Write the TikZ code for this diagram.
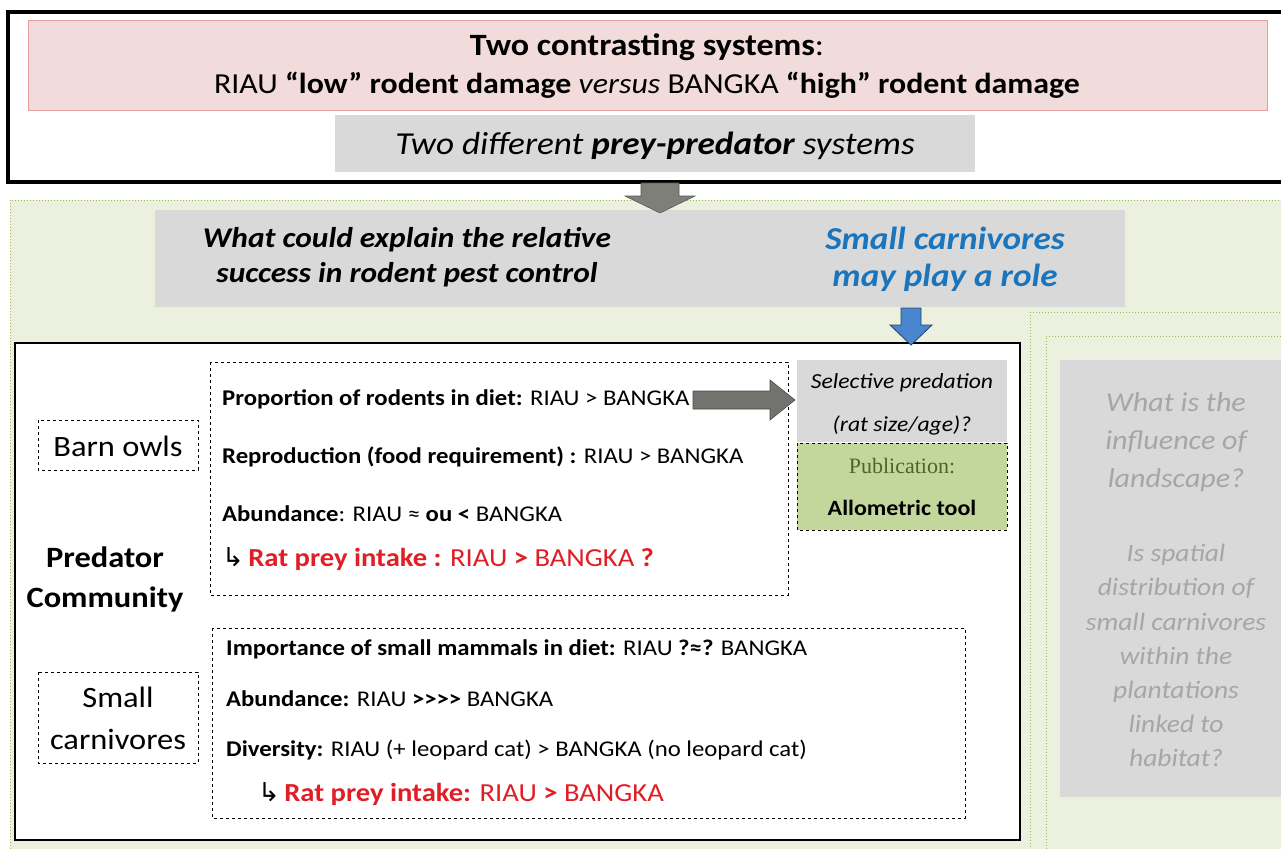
\documentclass[tikz,border=0pt]{standalone}
\usepackage{fontspec}
\setmainfont[FakeStretch=1.1]{Carlito}
\newfontfamily\symfont{DejaVu Sans}
\newfontfamily\pubfont{Liberation Serif}
\definecolor{pinkfill}{HTML}{F2DCDB}
\definecolor{pinkline}{HTML}{E6A0A0}
\definecolor{boxgray}{HTML}{D9D9D9}
\definecolor{areagreen}{HTML}{EBF1DE}
\definecolor{arealine}{HTML}{9BBB59}
\definecolor{pubgreen}{HTML}{C3D69B}
\definecolor{pubtext}{HTML}{4F6228}
\definecolor{redtext}{HTML}{E01E25}
\definecolor{bluetext}{HTML}{1B75BC}
\definecolor{arrowgray}{HTML}{7F7F7A}
\definecolor{arrowblue}{HTML}{4A86D0}
\definecolor{softgray}{HTML}{A6A6A6}
\tikzset{
  txt/.style={inner sep=0pt, anchor=base},
  listline/.style={inner sep=0pt, anchor=base west, font=\fontsize{22.5}{26}\selectfont},
  redline/.style={inner sep=0pt, anchor=base west, font=\fontsize{26}{30}\selectfont, text=redtext},
  dashbox/.style={draw=black, dashed, line width=0.8pt},
  titlef/.style={txt, font=\fontsize{29}{34}\selectfont},
  whatf/.style={txt, font=\fontsize{28.6}{34}\selectfont\bfseries\itshape},
  bluef/.style={txt, font=\fontsize{32}{36}\selectfont\bfseries\itshape, text=bluetext},
  grayq/.style={txt, font=\fontsize{27.3}{32}\selectfont\itshape, text=softgray},
  grayr/.style={txt, font=\fontsize{25}{30}\selectfont\itshape, text=softgray},
  labelf/.style={txt, font=\fontsize{29.5}{34}\selectfont},
  self/.style={txt, font=\fontsize{21.5}{25}\selectfont\itshape},
}
\newcommand{\hookarr}{{\symfont\color{black}\char"21B3}}
\begin{document}
\begin{tikzpicture}[x=1pt,y=-1pt]
\useasboundingbox (0,0) rectangle (1281,848);
\fill[white] (0,0) rectangle (1281,848);

% green lower area
\filldraw[fill=areagreen, draw=arealine, dotted, line width=1pt] (10,200) rectangle (1290,852);

% top framed box
\filldraw[fill=white, draw=black, line width=3.5pt] (8,12) rectangle (1290,182);
\filldraw[fill=pinkfill, draw=pinkline, line width=0.6pt] (28,20) rectangle (1267,110);
\node[titlef, font=\fontsize{31}{34}\selectfont] (title1) at (647,56) {\textbf{Two contrasting systems}:};
\node[titlef] (title2) at (647,94) {RIAU \textbf{“low” rodent damage} \textit{versus} BANGKA \textbf{“high” rodent damage}};
\fill[boxgray] (335,115) rectangle (975,172);
\node[txt, font=\fontsize{32}{36}\selectfont\itshape] (twodiff) at (655,154) {Two different \textbf{prey-predator} systems};

% gray question box
\fill[boxgray] (155,210) rectangle (1125,307);
\node[whatf] (what1) at (407,247) {What could explain the relative};
\node[whatf] (what2) at (407,282) {success in rodent pest control};
\node[bluef] (blue1) at (945,249) {Small carnivores};
\node[bluef] (blue2) at (945,286) {may play a role};

% top down arrow
\filldraw[fill=arrowgray, draw=arrowgray!70!black, line width=0.6pt]
  (641,183) -- (679,183) -- (679,196) -- (695,196) -- (660,213) -- (625,196) -- (641,196) -- cycle;

% right dotted panel
\filldraw[fill=areagreen, draw=arealine, dotted, line width=1pt] (1030,312) rectangle (1290,852);
\draw[arealine, dotted, line width=1pt] (1046,852) -- (1046,336) -- (1290,336);
\fill[boxgray] (1060,360) rectangle (1290,797);
\node[grayq] (q1) at (1176,411) {What is the};
\node[grayq] (q2) at (1176,449) {influence of};
\node[grayq] (q3) at (1176,487) {landscape?};
\node[grayr] (r1) at (1176,561) {Is spatial};
\node[grayr] (r2) at (1176,595) {distribution of};
\node[grayr] (r3) at (1176,630) {small carnivores};
\node[grayr] (r4) at (1176,664) {within the};
\node[grayr] (r5) at (1176,698) {plantations};
\node[grayr] (r6) at (1176,732) {linked to};
\node[grayr] (r7) at (1176,766) {habitat?};

% main white box
\filldraw[fill=white, draw=black, line width=1.8pt] (15,343) rectangle (1020,840);

% blue down arrow
\filldraw[fill=arrowblue, draw=arrowblue!50!black, line width=0.8pt]
  (901,308) -- (921,308) -- (921,325) -- (932,325) -- (911,345) -- (890,325) -- (901,325) -- cycle;

% Barn owls label
\draw[dashbox] (38,420) rectangle (198,470);
\node[labelf] (barn) at (118,456) {Barn owls};
\node[labelf, font=\fontsize{29.5}{34}\selectfont\bfseries] (pred1) at (105,567) {Predator};
\node[labelf, font=\fontsize{29.5}{34}\selectfont\bfseries] (pred2) at (105,607) {Community};

% barn owl dashed block
\draw[dashbox] (210,362) rectangle (788,595);
\node[listline] (l1) at (222,405) {\textbf{Proportion of rodents in diet:} RIAU > BANGKA};
\node[listline] (l2) at (222,463) {\textbf{Reproduction (food requirement) :} RIAU > BANGKA};
\node[listline] (l3) at (222,521) {\textbf{Abundance}: RIAU ≈ \textbf{ou <} BANGKA};
\node[redline] (l4) at (222,566) {\hookarr\,\textbf{Rat prey intake :} RIAU \textbf{>} BANGKA \textbf{?}};

% right arrow to selective predation
\filldraw[fill=arrowgray!90!black, draw=arrowgray!60!black, line width=0.6pt]
  (693,391) -- (770,391) -- (770,380) -- (795,400) -- (770,420) -- (770,409) -- (693,409) -- cycle;

% selective predation box
\fill[boxgray] (797,360) rectangle (1007,442);
\node[self] (sel1) at (902,388) {Selective predation};
\node[self] (sel2) at (902,431) {(rat size/age)?};
\filldraw[fill=pubgreen, draw=black, dashed, line width=0.8pt] (797,443) rectangle (1007,530);
\node[txt, font=\fontsize{22}{26}\selectfont\pubfont, text=pubtext] (pub) at (902,473) {Publication:};
\node[txt, font=\fontsize{21.8}{25}\selectfont\bfseries] (allo) at (902,515) {Allometric tool};

% Small carnivores label
\draw[dashbox] (38,672) rectangle (198,763);
\node[labelf] (small1) at (118,707) {Small};
\node[labelf] (small2) at (118,749) {carnivores};

% small carnivores dashed block
\draw[dashbox] (212,628) rectangle (965,818);
\node[listline] (m1) at (226,655) {\textbf{Importance of small mammals in diet:} RIAU \textbf{?≈?} BANGKA};
\node[listline] (m2) at (226,706) {\textbf{Abundance:} RIAU \textbf{{>}{>}{>}{>}} BANGKA};
\node[listline] (m3) at (226,756) {\textbf{Diversity:} RIAU (+ leopard cat) > BANGKA (no leopard cat)};
\node[redline] (m4) at (258,801) {\hookarr\,\textbf{Rat prey intake:} RIAU \textbf{>} BANGKA};
\end{tikzpicture}
\end{document}
